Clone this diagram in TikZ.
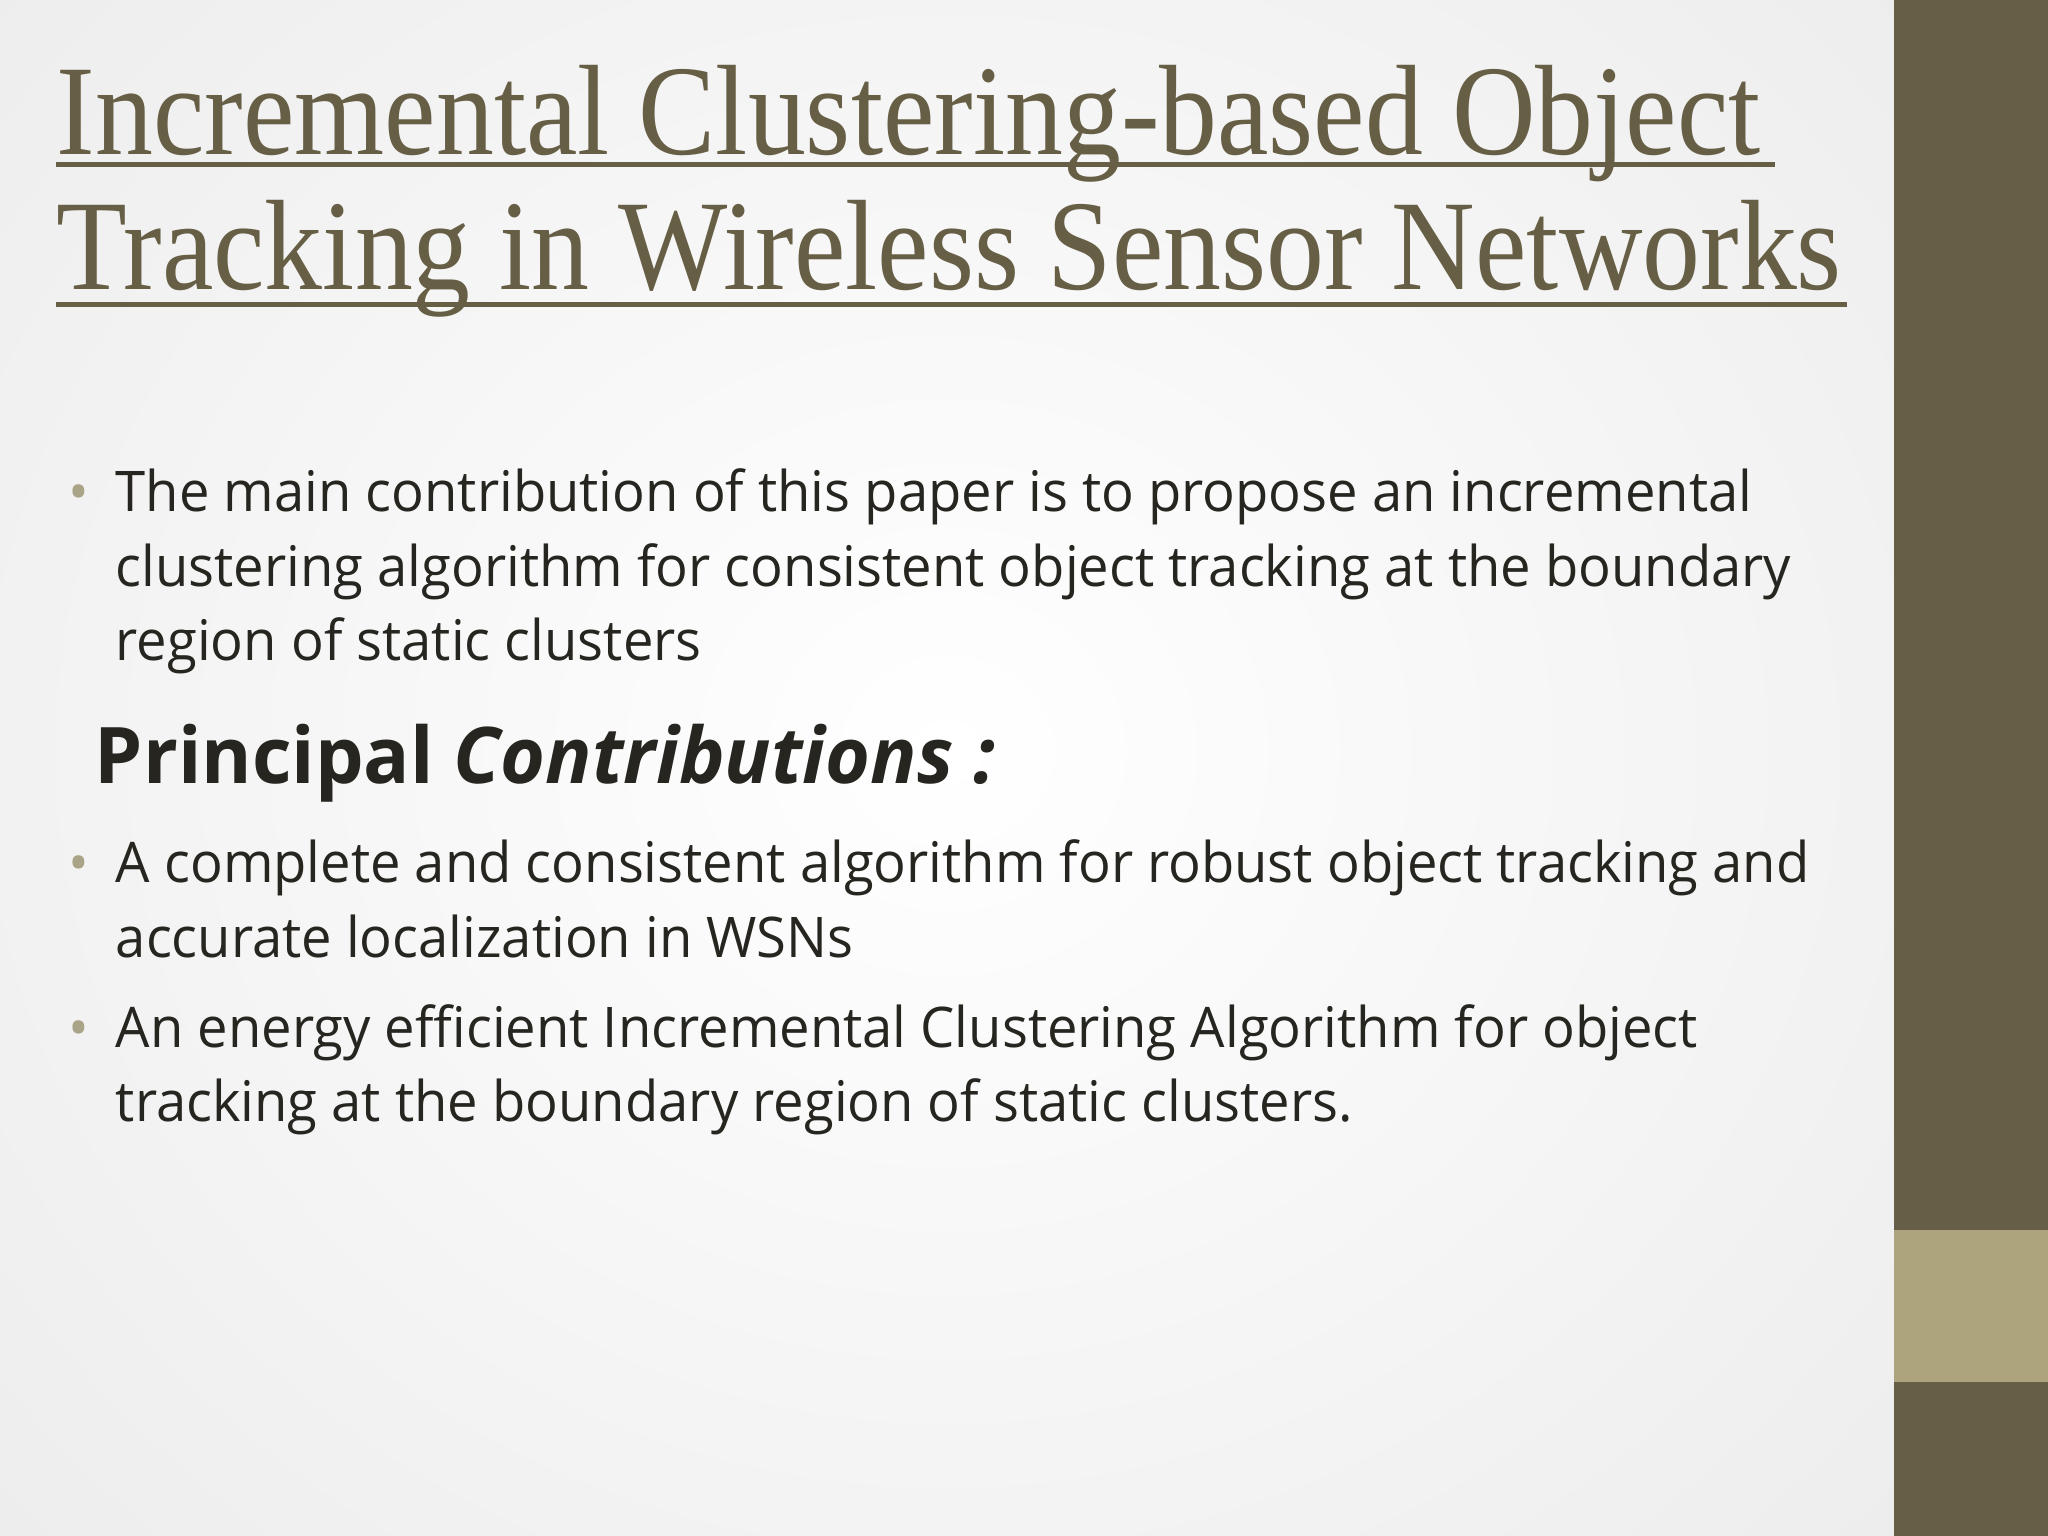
\documentclass[tikz,border=0pt]{standalone}
\usepackage{fontspec}
\setmainfont{Open Sans}
\newfontfamily\titlefont{Liberation Serif}
\definecolor{titlec}{HTML}{675F45}
\definecolor{barc}{HTML}{675E47}
\definecolor{bandc}{HTML}{ADA47E}
\definecolor{bulc}{HTML}{A9A487}
\definecolor{txt}{HTML}{262520}
\begin{document}
\begin{tikzpicture}[x=0.01cm,y=-0.01cm,
 ttl/.style={anchor=base west,inner sep=0,text=titlec,font=\titlefont\fontsize{28}{30}\selectfont,xscale=0.9},
 body/.style={anchor=base west,inner sep=0,text=txt,font=\fontsize{12.2}{14}\selectfont,xscale=0.97},
 bul/.style={anchor=base west,inner sep=0,text=bulc,font=\fontsize{12}{14}\selectfont}]
\useasboundingbox (0,0) rectangle (1568,1176);
\shade[inner color=white,outer color=black!7] (-250,-300) rectangle (1700,1450);
\fill[barc] (1450,0) rectangle (1568,1176);
\fill[bandc] (1450,942) rectangle (1568,1058);
\node[ttl] (t1) at (43,118) {Incremental Clustering-based Object};
\node[ttl] (t2) at (43,222) {Tracking in Wireless Sensor Networks};
\coordinate (u1) at (43,126);
\coordinate (u2) at (43,233);
\draw[titlec,line width=1.2pt] (u1) -- ++(1316,0);
\draw[titlec,line width=1.2pt] (u2) -- ++(1371,0);
\node[bul] (b1) at (52,392) {•};
\node[body] (l1) at (88,392) {The main contribution of this paper is to propose an incremental};
\node[body] (l2) at (88,449) {clustering algorithm for consistent object tracking at the boundary};
\node[body] (l3) at (88,506) {region of static clusters};
\node[anchor=base west,inner sep=0,text=txt,font=\bfseries\fontsize{17}{20}\selectfont,xscale=0.985] (h) at (72,600) {Principal \textit{Contributions :}};
\node[bul] (b2) at (52,676) {•};
\node[body] (l4) at (88,676) {A complete and consistent algorithm for robust object tracking and};
\node[body] (l5) at (88,733) {accurate localization in WSNs};
\node[bul] (b3) at (52,802) {•};
\node[body] (l6) at (88,802) {An energy efficient Incremental Clustering Algorithm for object};
\node[body] (l7) at (88,859) {tracking at the boundary region of static clusters.};
\end{tikzpicture}
\end{document}
